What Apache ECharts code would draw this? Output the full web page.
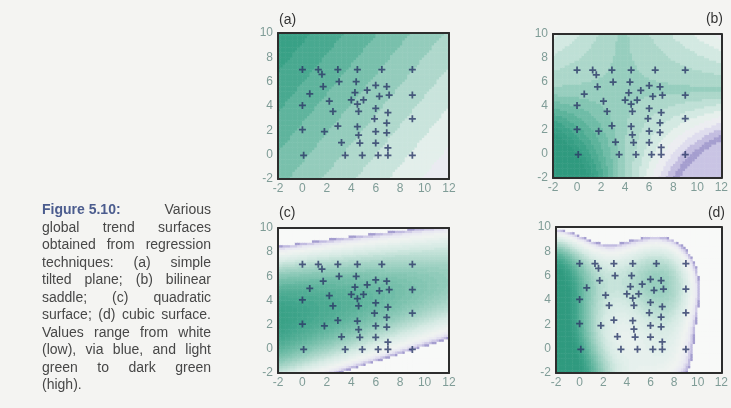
<!DOCTYPE html>
<html><head><meta charset="utf-8">
<script src="https://cdn.jsdelivr.net/npm/echarts@6/dist/echarts.min.js"></script>
<style>html,body{margin:0;padding:0;background:#f4f4f2;}#c{width:731px;height:408px;}</style>
</head><body><div id="c"></div>
<script>
// ---------- data ----------
const xTicks = [-2, 0, 2, 4, 6, 8, 10, 12];
const yTicks = [-2, 0, 2, 4, 6, 8, 10];
const panelLabels = ['(a)', '(b)', '(c)', '(d)'];
const pointsX = [0, 1.3, 1.6, 2.9, 4.5, 6.5, 9, 3, 4.4, 1.7, 6, 6.9, 0.6, 4.3, 5.3, 7.1, 9, 6.3, 2.2, 4, 5, 4.5, 0, 6, 2.5, 4.6, 7, 5.9, 9, 6.9, 2.9, 4.5, 0, 1.8, 6, 6.9, 4.6, 3.2, 4.7, 6, 7, 0.1, 3.5, 4.9, 6.2, 7, 9];
const pointsY = [7, 7, 6.6, 7, 7, 7, 7, 6, 6, 5.6, 5.7, 5.6, 5, 5.1, 5.3, 4.9, 4.9, 4.8, 4.4, 4.5, 4.5, 4.15, 4.05, 3.8, 3.55, 3.55, 3.45, 2.95, 2.95, 2.6, 2.35, 2.3, 2.05, 1.9, 1.9, 1.8, 1.6, 1.0, 0.95, 0.95, 0.55, -0.05, -0.05, -0.05, -0.05, -0.05, -0.05];
// (a) tilted plane: z = c0 + cx*x + cy*y
const planeCoef = [0.72, -0.0367, 0.0306];
// (b) saddle: centre and [z0, kBL, kTL, kTR, kBR]
const saddleCenter = [3.8, 5.3];
const saddleCoef = [0.62, 0.025, 0.01, -0.009, 0.018];
// (c) quadratic ridge: [top at x=-2, fall per unit, ridge y at x=-2, ridge slope, curvature]
const quadCoef = [1.05, -0.0286, 2.5, 0.22, 0.029];
// (d) cubic surface: shade on a grid (regression input)
const dSampleX = [-2, -1, 0, 1, 2, 3, 4, 5, 6, 7, 8, 9, 10, 11, 12];
const dSampleY = [10, 9, 8, 6, 4, 2, 0, -2];
const dRow10 = [-0.1, -0.2, -0.3, -0.35, -0.35, -0.35, -0.35, -0.35, -0.35, -0.35, -0.35, -0.4, -0.5, -0.7, -0.8];
const dRow9 = [0.35, 0.2, -0.02, -0.08, -0.05, 0.0, 0.0, 0.0, 0.0, 0.0, -0.05, -0.15, -0.35, -0.6, -0.75];
const dRow8 = [0.95, 0.85, 0.45, 0.12, 0.18, 0.2, 0.22, 0.25, 0.3, 0.27, 0.2, 0.08, -0.15, -0.45, -0.7];
const dRow6 = [1.2, 1.15, 0.85, 0.5, 0.4, 0.38, 0.45, 0.7, 0.95, 0.8, 0.45, 0.2, 0.0, -0.3, -0.6];
const dRow4 = [1.25, 1.2, 0.95, 0.55, 0.4, 0.35, 0.4, 0.58, 0.75, 0.65, 0.4, 0.2, 0.0, -0.3, -0.6];
const dRow2 = [1.3, 1.25, 1.05, 0.65, 0.38, 0.3, 0.3, 0.38, 0.48, 0.42, 0.3, 0.18, 0.0, -0.3, -0.6];
const dRow0 = [1.3, 1.3, 1.1, 0.8, 0.42, 0.3, 0.27, 0.27, 0.3, 0.28, 0.24, 0.12, -0.05, -0.35, -0.65];
const dRowM2 = [1.3, 1.3, 1.2, 1.0, 0.6, 0.35, 0.28, 0.26, 0.26, 0.25, 0.2, 0.02, -0.2, -0.45, -0.7];
const captionLines = [
  ['Figure 5.10:', 'Various'],
  ['global', 'trend', 'surfaces'],
  ['obtained', 'from', 'regression'],
  ['techniques:', '(a)', 'simple'],
  ['tilted', 'plane;', '(b)', 'bilinear'],
  ['saddle;', '(c)', 'quadratic'],
  ['surface;', '(d)', 'cubic', 'surface.'],
  ['Values', 'range', 'from', 'white'],
  ['(low),', 'via', 'blue,', 'and', 'light'],
  ['green', 'to', 'dark', 'green'],
  ['(high).']
];

// ---------- surfaces ----------
function planeZ(x, y) { return planeCoef[0] + planeCoef[1] * x + planeCoef[2] * y; }
function saddleZ(x, y) {
  const dx = x - saddleCenter[0], dy = y - saddleCenter[1], p = dx * dy;
  let k;
  if (dx < 0 && dy < 0) k = saddleCoef[1];
  else if (dx < 0) k = saddleCoef[2];
  else if (dy >= 0) k = saddleCoef[3];
  else k = saddleCoef[4];
  return saddleCoef[0] + k * p;
}
function quadZ(x, y) {
  const u = x + 2, d = y - (quadCoef[2] + quadCoef[3] * u);
  return quadCoef[0] + quadCoef[1] * u - quadCoef[4] * d * d;
}
const DEG = 5;
function polyBasis(x, y) {
  const u = (x - 5) / 7, v = (y - 4) / 6, f = [];
  for (let d = 0; d <= DEG; d++) for (let i = 0; i <= d; i++) f.push(Math.pow(u, d - i) * Math.pow(v, i));
  return f;
}
function fitSurface(sx, sy, sz) {
  const n = polyBasis(0, 0).length, A = [], b = [];
  for (let i = 0; i < n; i++) { A.push(new Array(n).fill(0)); b.push(0); }
  for (let s = 0; s < sx.length; s++) {
    const f = polyBasis(sx[s], sy[s]);
    for (let i = 0; i < n; i++) { b[i] += f[i] * sz[s]; for (let j = 0; j < n; j++) A[i][j] += f[i] * f[j]; }
  }
  for (let i = 0; i < n; i++) A[i][i] += 1e-5;
  for (let c = 0; c < n; c++) {
    let piv = c;
    for (let r = c + 1; r < n; r++) if (Math.abs(A[r][c]) > Math.abs(A[piv][c])) piv = r;
    [A[c], A[piv]] = [A[piv], A[c]]; [b[c], b[piv]] = [b[piv], b[c]];
    for (let r = 0; r < n; r++) {
      if (r === c) continue;
      const f = A[r][c] / A[c][c];
      for (let j = c; j < n; j++) A[r][j] -= f * A[c][j];
      b[r] -= f * b[c];
    }
  }
  return b.map((v, i) => v / A[i][i]);
}
const dRows = [dRow10, dRow9, dRow8, dRow6, dRow4, dRow2, dRow0, dRowM2];
const sx = [], sy = [], sz = [];
dRows.forEach((row, r) => row.forEach((z, c) => { sx.push(dSampleX[c]); sy.push(dSampleY[r]); sz.push(z); }));
const cubicCoef = fitSurface(sx, sy, sz);
function cubicZ(x, y) { const f = polyBasis(x, y); let z = 0; for (let i = 0; i < f.length; i++) z += cubicCoef[i] * f[i]; return z; }

const step = 0.2;
const nx = Math.round((xTicks[xTicks.length - 1] - xTicks[0]) / step);
const ny = Math.round((yTicks[yTicks.length - 1] - yTicks[0]) / step);
const xCats = Array.from({ length: nx }, (_, i) => i);
const yCats = Array.from({ length: ny }, (_, j) => j);
function surfaceData(fn) {
  const out = [];
  for (let i = 0; i < nx; i++) for (let j = 0; j < ny; j++) {
    const x = xTicks[0] + step * (i + 0.5), y = yTicks[0] + step * (j + 0.5);
    out.push([i, j, +fn(x, y).toFixed(4)]);
  }
  return out;
}
const surfaces = [surfaceData(planeZ), surfaceData(saddleZ), surfaceData(quadZ), surfaceData(cubicZ)];

// ---------- colour maps ----------
const greenStops = [[0.40, [214, 234, 228]], [0.55, [175, 216, 204]], [0.70, [134, 198, 180]], [0.85, [95, 180, 157]], [1.00, [62, 164, 138]], [1.15, [48, 154, 127]]];
const wideStops = [[0.0, [150, 142, 198]], [0.1, [190, 184, 222]], [0.2, [228, 226, 240]], [0.3, [240, 243, 241]]].concat(greenStops);
const narrowStops = [[0.0, [150, 142, 198]], [0.04, [196, 190, 226]], [0.1, [232, 231, 242]], [0.2, [240, 243, 241]], [0.3, [228, 240, 236]]].concat(greenStops);
function cmap(stops, t) {
  if (t <= stops[0][0]) return 'rgb(' + stops[0][1].join(',') + ')';
  for (let k = 1; k < stops.length; k++) {
    if (t <= stops[k][0]) {
      const a = stops[k - 1], b = stops[k], f = (t - a[0]) / (b[0] - a[0]);
      return 'rgb(' + a[1].map((v, i) => Math.round(v + (b[1][i] - v) * f)).join(',') + ')';
    }
  }
  return 'rgb(' + stops[stops.length - 1][1].join(',') + ')';
}
function makePieces(stops, band, belowColor) {
  const p = [{ lt: 0, color: belowColor }];
  const n = Math.round(1.15 / band);
  for (let k = 0; k < n; k++) p.push({ gte: k * band, lt: (k + 1) * band, color: cmap(stops, (k + 0.5) * band) });
  p.push({ gte: n * band, color: cmap(stops, 1.15) });
  return p;
}

// ---------- layout ----------
const grids = [
  { left: 278, top: 33, width: 171, height: 146 },
  { left: 553, top: 34, width: 170, height: 144 },
  { left: 278, top: 228, width: 171, height: 145 },
  { left: 556, top: 227, width: 169, height: 146 }
];
const frameLine = { show: true, onZero: false, lineStyle: { color: '#2d2d2d', width: 2 } };
const labelStyle = { color: '#7f9c97', fontSize: 12, fontFamily: 'Liberation Sans, Arial, sans-serif' };
const xAxes = [], yAxes = [], series = [];
grids.forEach((g, k) => {
  xAxes.push({ type: 'category', gridIndex: k, data: xCats, position: 'top', z: 10, axisLine: frameLine, axisTick: { show: false }, axisLabel: { show: false }, splitLine: { show: false } });
  xAxes.push({ type: 'value', gridIndex: k, min: xTicks[0], max: xTicks[xTicks.length - 1], interval: 2, position: 'bottom', z: 10, axisLine: frameLine, axisTick: { show: false }, splitLine: { show: false }, axisLabel: Object.assign({ margin: 4 }, labelStyle) });
  yAxes.push({ type: 'category', gridIndex: k, data: yCats, position: 'right', z: 10, axisLine: frameLine, axisTick: { show: false }, axisLabel: { show: false }, splitLine: { show: false } });
  yAxes.push({ type: 'value', gridIndex: k, min: yTicks[0], max: yTicks[yTicks.length - 1], interval: 2, position: 'left', z: 10, axisLine: frameLine, axisTick: { show: false }, splitLine: { show: false }, axisLabel: Object.assign({ margin: 5 }, labelStyle) });
});
surfaces.forEach((d, k) => {
  series.push({ type: 'heatmap', xAxisIndex: 2 * k, yAxisIndex: 2 * k, data: d, progressive: 0, animation: false, itemStyle: { borderWidth: 0 }, emphasis: { disabled: true } });
});
const pts = pointsX.map((x, i) => [x, pointsY[i]]);
grids.forEach((g, k) => {
  series.push({ type: 'scatter', xAxisIndex: 2 * k + 1, yAxisIndex: 2 * k + 1, data: pts, z: 5, symbol: 'path://M3,0H5V3H8V5H5V8H3V5H0V3H3Z', symbolSize: 7, itemStyle: { color: '#2a3766' }, animation: false });
});

// ---------- caption & panel labels ----------
const graphics = [];
const fontFam = 'Liberation Sans, Arial, sans-serif';
const ctx = document.createElement('canvas').getContext('2d');
const capLeft = 42, capRight = 211, capTop = 212, capStep = 17.5, capSize = 14;
captionLines.forEach((words, li) => {
  const y = capTop + li * capStep;
  const fonts = words.map(w => (w.indexOf('Figure') === 0 ? 'bold ' : '') + capSize + 'px ' + fontFam);
  const widths = words.map((w, i) => { ctx.font = fonts[i]; return ctx.measureText(w).width; });
  const total = widths.reduce((a, b) => a + b, 0);
  const last = li === captionLines.length - 1;
  const gap = (words.length > 1 && !last) ? (capRight - capLeft - total) / (words.length - 1) : capSize * 0.28;
  let x = capLeft;
  words.forEach((w, i) => {
    const isFig = w.indexOf('Figure') === 0;
    graphics.push({ type: 'text', left: x, top: y - capSize * 0.6, style: { text: w, font: fonts[i], fill: isFig ? '#4b5c8e' : '#474747' } });
    x += widths[i] + gap;
  });
});
const labelPos = [[279, 13, 'left'], [723, 12, 'right'], [279, 206, 'left'], [725, 206, 'right']];
panelLabels.forEach((t, k) => {
  const p = labelPos[k];
  const el = { type: 'text', top: p[1], style: { text: t, font: '14px ' + fontFam, fill: '#333' } };
  if (p[2] === 'left') el.left = p[0]; else el.right = 731 - p[0];
  graphics.push(el);
});

const chart = echarts.init(document.getElementById('c'), null, { renderer: 'canvas' });
chart.setOption({
  backgroundColor: '#f4f4f2',
  animation: false,
  grid: grids,
  xAxis: xAxes,
  yAxis: yAxes,
  visualMap: [
    { type: 'piecewise', show: false, seriesIndex: [0], dimension: 2, pieces: makePieces(wideStops, 0.1, '#f8f9f8') },
    { type: 'piecewise', show: false, seriesIndex: [1], dimension: 2, pieces: makePieces(wideStops, 0.075, '#c9c4e4') },
    { type: 'piecewise', show: false, seriesIndex: [2, 3], dimension: 2, pieces: makePieces(narrowStops, 0.025, '#f8f9f8') }
  ],
  series: series,
  graphic: graphics
});
</script></body></html>
